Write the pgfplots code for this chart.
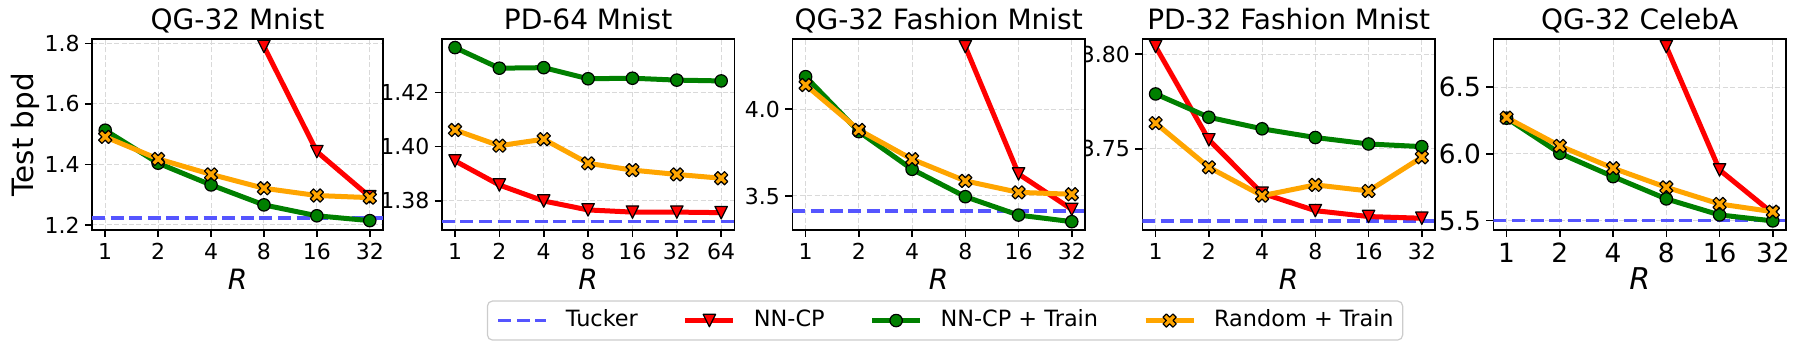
\documentclass[border=0pt]{standalone}
\usepackage{fontspec}
\setmainfont{DejaVu Sans}
\usepackage{pgfplots}
\pgfplotsset{compat=1.18}

\definecolor{tuckerblue}{RGB}{85,85,255}
\definecolor{mplgreen}{RGB}{0,128,0}
\definecolor{mplorange}{RGB}{255,165,0}

% matplotlib-like markers: 'v' and filled 'X'
\pgfdeclareplotmark{vtri}{%
  \pgfpathmoveto{\pgfpoint{-\pgfplotmarksize}{\pgfplotmarksize}}%
  \pgfpathlineto{\pgfpoint{\pgfplotmarksize}{\pgfplotmarksize}}%
  \pgfpathlineto{\pgfpoint{0pt}{-\pgfplotmarksize}}%
  \pgfpathclose
  \pgfusepathqfillstroke}
\pgfdeclareplotmark{fatx}{%
  \pgfpathmoveto{\pgfpoint{-0.5\pgfplotmarksize}{-\pgfplotmarksize}}%
  \pgfpathlineto{\pgfpoint{0pt}{-0.5\pgfplotmarksize}}%
  \pgfpathlineto{\pgfpoint{0.5\pgfplotmarksize}{-\pgfplotmarksize}}%
  \pgfpathlineto{\pgfpoint{\pgfplotmarksize}{-0.5\pgfplotmarksize}}%
  \pgfpathlineto{\pgfpoint{0.5\pgfplotmarksize}{0pt}}%
  \pgfpathlineto{\pgfpoint{\pgfplotmarksize}{0.5\pgfplotmarksize}}%
  \pgfpathlineto{\pgfpoint{0.5\pgfplotmarksize}{\pgfplotmarksize}}%
  \pgfpathlineto{\pgfpoint{0pt}{0.5\pgfplotmarksize}}%
  \pgfpathlineto{\pgfpoint{-0.5\pgfplotmarksize}{\pgfplotmarksize}}%
  \pgfpathlineto{\pgfpoint{-\pgfplotmarksize}{0.5\pgfplotmarksize}}%
  \pgfpathlineto{\pgfpoint{-0.5\pgfplotmarksize}{0pt}}%
  \pgfpathlineto{\pgfpoint{-\pgfplotmarksize}{-0.5\pgfplotmarksize}}%
  \pgfpathclose
  \pgfusepathqfillstroke}

\pgfplotsset{
  panel/.style={
    scale only axis, width=146.4pt, height=95.4pt,
    axis background/.style={fill=white},
    axis line style={black, line width=0.8pt},
    tick align=outside, tick pos=left,
    major tick length=3.5pt,
    every tick/.style={black, line width=0.8pt},
    grid=major,
    grid style={black!15, line width=0.5pt, dash pattern=on 2.5pt off 1.2pt},
    xtick={0,...,5}, xticklabels={1,2,4,8,16,32},
    xmin=-0.25, xmax=5.25,
    tick label style={font=\fontsize{11}{13}\selectfont},
    xticklabel style={anchor=north, inner sep=0pt, yshift=-3pt},
    yticklabel style={anchor=east, inner sep=0pt, xshift=-2.5pt},
    title style={at={(0.5,1)}, anchor=base, inner sep=0pt, yshift=-1.35pt,
      font=\fontsize{14}{17}\selectfont},
    xlabel={\textit{R}},
    xlabel style={at={(axis description cs:0.5,0)}, anchor=base, inner sep=0pt,
      yshift=-30pt, font=\fontsize{14}{17}\selectfont},
    legend image code/.code={%
      \draw[mark repeat=2,mark phase=2,#1]
        plot coordinates {(0pt,0pt) (12pt,0pt) (24pt,0pt)};},
  },
  tucker/.style={tuckerblue, line width=1.75pt, dash pattern=on 6.5pt off 2.8pt, no marks},
  nncp/.style={red, line width=2.5pt, line join=round, mark=vtri, mark size=3.1pt,
    mark options={solid, sharp corners, fill=red, draw=black, line width=0.6pt}},
  nncptrain/.style={mplgreen, line width=2.5pt, line join=round, mark=*, mark size=3.1pt,
    mark options={solid, sharp corners, fill=mplgreen, draw=black, line width=0.6pt}},
  randtrain/.style={mplorange, line width=2.5pt, line join=round, mark=fatx, mark size=3.3pt,
    mark options={solid, sharp corners, fill=mplorange, draw=black, line width=0.6pt}},
}

\begin{document}
\begin{tikzpicture}
\useasboundingbox (0,0) rectangle (900pt,-175.5pt);

% ---- QG-32 CelebA (larger tick labels in the original)
\begin{axis}[panel, at={(746.65pt,-115pt)}, anchor=south west,
  title={QG-32 CelebA}, ymin=5.430, ymax=6.860,
  tick label style={font=\fontsize{13.2}{15}\selectfont},
  xlabel style={font=\fontsize{15}{18}\selectfont},
  ytick={5.5,6.0,6.5}, yticklabels={5.5,6.0,6.5}]
\addplot[tucker] coordinates {(-0.25,5.500) (5.25,5.500)};
\addplot[nncp] coordinates {(3,6.804) (4,5.880) (5,5.555)};
\addplot[nncptrain] coordinates {(0,6.268) (1,6.005) (2,5.830) (3,5.663) (4,5.543) (5,5.498)};
\addplot[randtrain] coordinates {(0,6.272) (1,6.060) (2,5.893) (3,5.750) (4,5.625) (5,5.567)};
\end{axis}

% ---- PD-32 Fashion Mnist
\begin{axis}[panel, at={(571.15pt,-115pt)}, anchor=south west,
  title={PD-32 Fashion Mnist}, ymin=3.7072, ymax=3.8079,
  ytick={3.75,3.80}, yticklabels={3.75,3.80}]
\addplot[tucker] coordinates {(-0.25,3.712) (5.25,3.712)};
\addplot[nncp] coordinates {(0,3.804) (1,3.7548) (2,3.7266) (3,3.7174) (4,3.7143) (5,3.7134)};
\addplot[nncptrain] coordinates {(0,3.779) (1,3.7667) (2,3.7606) (3,3.756) (4,3.7526) (5,3.7512)};
\addplot[randtrain] coordinates {(0,3.7636) (1,3.7403) (2,3.7253) (3,3.731) (4,3.7278) (5,3.7456)};
\end{axis}

% ---- QG-32 Fashion Mnist (carries the legend)
\begin{axis}[panel, at={(396.15pt,-115pt)}, anchor=south west,
  title={QG-32 Fashion Mnist}, ymin=3.304, ymax=4.404,
  ytick={3.5,4.0}, yticklabels={3.5,4.0},
  legend columns=4,
  legend style={at={(0.5217,-0.4746)}, anchor=center, draw=black!20, line width=0.6pt,
    rounded corners=2.5pt, fill=white, inner xsep=4.5pt, inner ysep=4.2pt,
    font=\fontsize{11.2}{13}\selectfont,
    nodes={inner sep=0pt, text height=8.5pt, text depth=2.6pt, anchor=west},
    /tikz/every even column/.append style={column sep=22.5pt},
    /tikz/every odd column/.append style={column sep=9pt}}]
\addplot[tucker] coordinates {(-0.25,3.413) (5.25,3.413)};
\addplot[nncp] coordinates {(3,4.361) (4,3.627) (5,3.423)};
\addplot[nncptrain] coordinates {(0,4.188) (1,3.871) (2,3.654) (3,3.496) (4,3.390) (5,3.352)};
\addplot[randtrain] coordinates {(0,4.140) (1,3.881) (2,3.712) (3,3.587) (4,3.521) (5,3.510)};
\legend{Tucker, NN-CP, NN-CP + Train, Random + Train}
\end{axis}

% ---- PD-64 Mnist
\begin{axis}[panel, at={(220.85pt,-115pt)}, anchor=south west,
  title={PD-64 Mnist}, ymin=1.3692, ymax=1.4396,
  xtick={0,...,6}, xticklabels={1,2,4,8,16,32,64}, xmin=-0.3, xmax=6.3,
  ytick={1.38,1.40,1.42}, yticklabels={1.38,1.40,1.42}]
\addplot[tucker] coordinates {(-0.3,1.3723) (6.3,1.3723)};
\addplot[nncp] coordinates {(0,1.3947) (1,1.3858) (2,1.3799) (3,1.3766) (4,1.3758) (5,1.3758) (6,1.3756)};
\addplot[nncptrain] coordinates {(0,1.4365) (1,1.4289) (2,1.4291) (3,1.4250) (4,1.4252) (5,1.4245) (6,1.4242)};
\addplot[randtrain] coordinates {(0,1.4061) (1,1.4003) (2,1.4027) (3,1.3938) (4,1.3913) (5,1.3897) (6,1.3883)};
\end{axis}

% ---- QG-32 Mnist
\begin{axis}[panel, at={(46pt,-115pt)}, anchor=south west, width=145.5pt,
  title={QG-32 Mnist}, ymin=1.183, ymax=1.814,
  ytick={1.2,1.4,1.6,1.8}, yticklabels={1.2,1.4,1.6,1.8},
  ylabel={Test bpd},
  ylabel style={at={(axis description cs:-0.2007,0.5)}, anchor=base, inner sep=0pt,
    font=\fontsize{14.7}{17}\selectfont}]
\addplot[tucker] coordinates {(-0.25,1.222) (5.25,1.222)};
\addplot[nncp] coordinates {(3,1.790) (4,1.442) (5,1.293)};
\addplot[nncptrain] coordinates {(0,1.513) (1,1.404) (2,1.332) (3,1.266) (4,1.230) (5,1.214)};
\addplot[randtrain] coordinates {(0,1.491) (1,1.418) (2,1.367) (3,1.321) (4,1.297) (5,1.290)};
\end{axis}
\end{tikzpicture}
\end{document}
